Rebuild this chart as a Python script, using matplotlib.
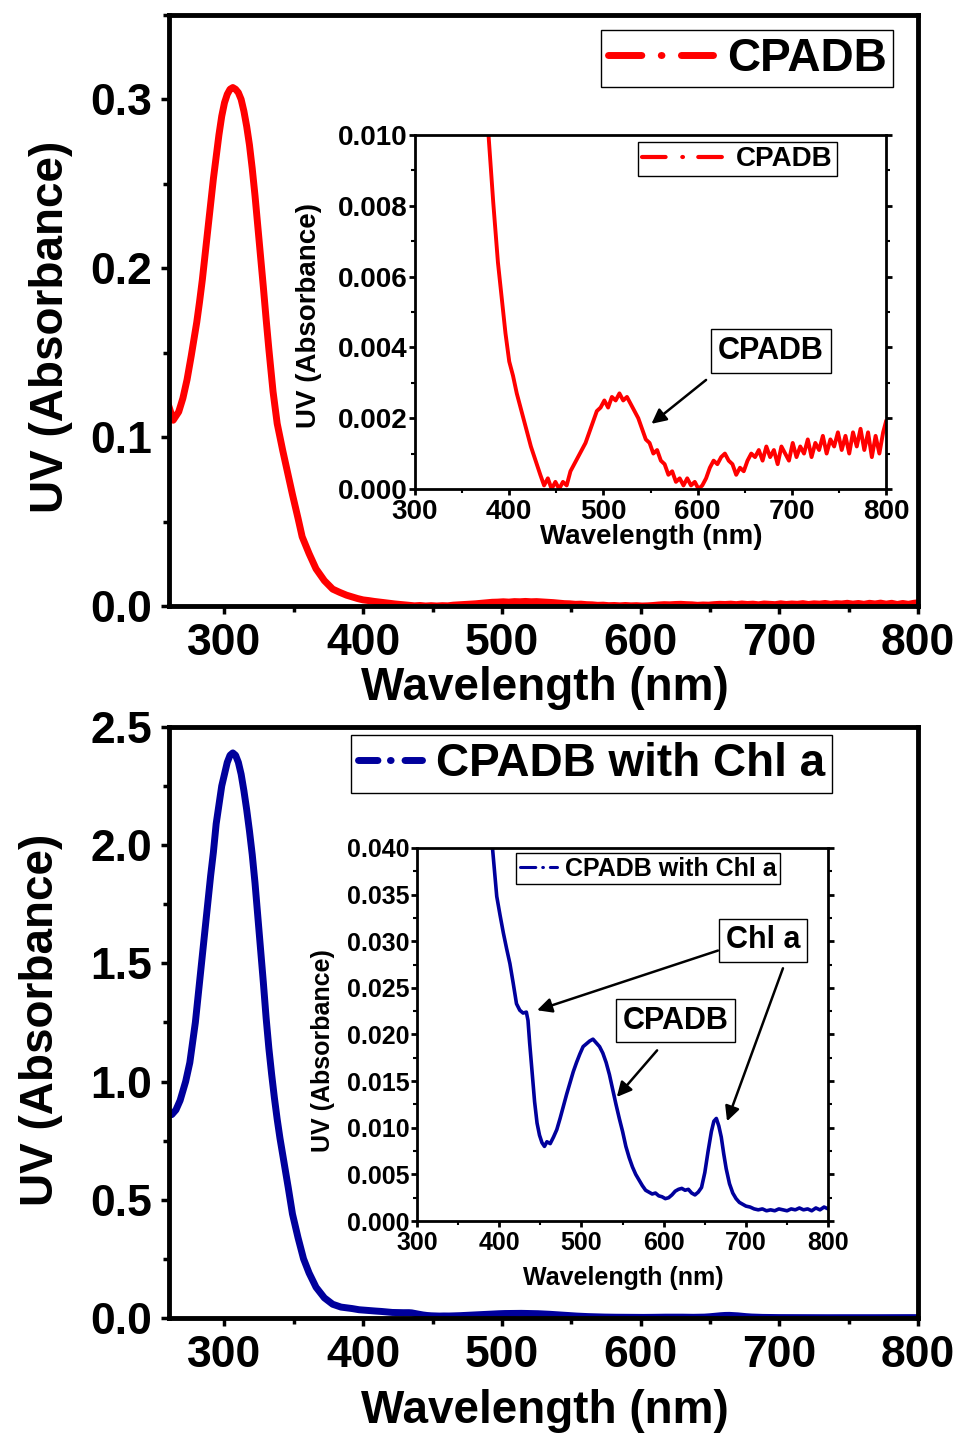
"""
UV absorbance spectra: CPADB alone (top) and CPADB with Chl a (bottom),
each with a zoomed inset of the visible region.
"""

import matplotlib
matplotlib.use("Agg")
import matplotlib.pyplot as plt
from matplotlib.lines import Line2D
from matplotlib.ticker import MultipleLocator

plt.rcParams["font.family"] = ["Liberation Sans", "DejaVu Sans"]
plt.rcParams["font.weight"] = "bold"
plt.rcParams["axes.labelweight"] = "bold"
plt.rcParams["lines.scale_dashes"] = False

RED  = "#ff0000"
BLUE = "#00009c"

# ---- spectra (wavelength in nm, absorbance) ----
CPADB_WL = [260, 263, 267, 270, 273, 276, 278, 280, 282, 284, 286, 288, 290, 292,
            294, 296, 298, 300, 302, 304, 306, 308, 310, 312, 314, 316, 318, 320,
            322, 324, 326, 328, 330, 332, 335, 338, 342, 346, 349, 353, 356, 361,
            366, 372, 378, 383, 388, 392, 396, 400, 404, 408, 413, 418, 423, 428,
            433, 437, 441, 445, 449, 453, 457, 461, 465, 469, 473, 477, 481, 485,
            489, 493, 497, 501, 505, 509, 513, 517, 521, 525, 529, 533, 537, 541,
            545, 549, 553, 557, 561, 565, 569, 573, 577, 581, 585, 589, 593, 597,
            601, 605, 609, 613, 617, 621, 625, 629, 633, 637, 641, 645, 649, 653,
            657, 661, 665, 669, 673, 677, 681, 685, 689, 693, 697, 701, 705, 709,
            713, 717, 721, 725, 729, 733, 737, 741, 745, 749, 753, 757, 761, 765,
            769, 773, 777, 781, 785, 789, 793, 797, 800]
CPADB_ABS = [0.118, 0.110, 0.115, 0.123, 0.134, 0.148, 0.158, 0.168, 0.180, 0.193,
             0.208, 0.223, 0.238, 0.253, 0.266, 0.279, 0.290, 0.298, 0.303, 0.306,
             0.307, 0.306, 0.304, 0.300, 0.293, 0.284, 0.273, 0.259, 0.243, 0.225,
             0.207, 0.189, 0.170, 0.152, 0.127, 0.108, 0.092, 0.077, 0.066, 0.052,
             0.041, 0.031, 0.022, 0.015, 0.0100, 0.0081, 0.0064, 0.0054, 0.0044,
             0.0036, 0.0032, 0.0027, 0.0022, 0.0017, 0.0012, 0.0008, 0.0004, 0.0001,
             0.0003, 0.0000, 0.0002, 0.0000, 0.0002, 0.0001, 0.0005, 0.0007, 0.0009,
             0.0011, 0.0013, 0.0016, 0.0019, 0.0022, 0.0023, 0.0025, 0.0023, 0.0026,
             0.0025, 0.0027, 0.0025, 0.0026, 0.0024, 0.0022, 0.0020, 0.0017, 0.0014,
             0.0013, 0.0010, 0.0011, 0.0008, 0.0007, 0.0004, 0.0005, 0.0002, 0.0003,
             0.0001, 0.0003, 0.0001, 0.0002, 0.0000, 0.0001, 0.0003, 0.0006, 0.0008,
             0.0007, 0.0009, 0.0010, 0.0008, 0.0007, 0.0004, 0.0006, 0.0005, 0.0008,
             0.0010, 0.0009, 0.0011, 0.0008, 0.0012, 0.0009, 0.0011, 0.0007, 0.0012,
             0.0010, 0.0008, 0.0013, 0.0009, 0.0012, 0.0010, 0.0014, 0.0009, 0.0013,
             0.0011, 0.0015, 0.0010, 0.0014, 0.0012, 0.0016, 0.0011, 0.0015, 0.0010,
             0.0016, 0.0012, 0.0017, 0.0011, 0.0016, 0.0009, 0.0015, 0.0010, 0.0016,
             0.0019]

MIX_WL = [260, 262, 265, 268, 272, 275, 279, 282, 284, 286, 288, 290, 292, 294,
          296, 298, 300, 302, 304, 306, 308, 310, 312, 314, 316, 318, 320, 322,
          324, 326, 328, 330, 332, 334, 336, 338, 340, 342, 346, 349, 353, 357,
          361, 366, 372, 378, 384, 388, 392, 397, 401, 405, 409, 413, 417, 421,
          425, 429, 433, 435, 437, 439, 441, 443, 446, 449, 452, 455, 458, 462,
          466, 470, 474, 478, 482, 486, 490, 494, 498, 502, 506, 510, 514, 518,
          522, 526, 530, 534, 538, 542, 546, 550, 554, 558, 562, 566, 570, 574,
          578, 582, 586, 590, 594, 598, 602, 606, 610, 614, 618, 622, 626, 630,
          634, 638, 642, 646, 650, 654, 658, 661, 664, 667, 670, 673, 676, 680,
          684, 688, 692, 696, 700, 705, 710, 715, 720, 725, 730, 735, 740, 745,
          750, 755, 760, 765, 770, 775, 780, 785, 790, 795, 800]
MIX_ABS = [0.87, 0.86, 0.88, 0.92, 1.00, 1.08, 1.25, 1.42, 1.53, 1.65, 1.76, 1.87,
           1.97, 2.09, 2.17, 2.25, 2.30, 2.35, 2.38, 2.39, 2.38, 2.35, 2.30, 2.23,
           2.15, 2.06, 1.96, 1.84, 1.70, 1.56, 1.42, 1.27, 1.14, 1.03, 0.93, 0.84,
           0.76, 0.69, 0.55, 0.44, 0.34, 0.25, 0.19, 0.13, 0.085, 0.058, 0.046,
           0.043, 0.0398, 0.0348, 0.0328, 0.0309, 0.0292, 0.0276, 0.0255, 0.0233,
           0.0226, 0.0223, 0.0224, 0.0215, 0.0191, 0.0170, 0.0148, 0.0128, 0.0105,
           0.0092, 0.0084, 0.0080, 0.0085, 0.0083, 0.0090, 0.0098, 0.0110, 0.0123,
           0.0136, 0.0148, 0.0160, 0.0170, 0.0179, 0.0187, 0.0190, 0.0193, 0.0195,
           0.0191, 0.0187, 0.0180, 0.0170, 0.0157, 0.0141, 0.0125, 0.0110, 0.0096,
           0.0080, 0.0068, 0.0058, 0.0050, 0.0044, 0.0038, 0.0033, 0.0031, 0.0029,
           0.0030, 0.0027, 0.0026, 0.0024, 0.0025, 0.0028, 0.0032, 0.0034, 0.0035,
           0.0033, 0.0034, 0.0030, 0.0028, 0.0031, 0.0036, 0.0052, 0.0075, 0.0096,
           0.0107, 0.0110, 0.0102, 0.0090, 0.0072, 0.0056, 0.0040, 0.0030, 0.0024,
           0.0020, 0.0018, 0.0016, 0.0015, 0.0013, 0.0012, 0.0013, 0.0011, 0.0012,
           0.0011, 0.0013, 0.0012, 0.0011, 0.0013, 0.0012, 0.0014, 0.0012, 0.0013,
           0.0011, 0.0014, 0.0012, 0.0015, 0.0013]

TOP_LABEL = "CPADB"
BOT_LABEL = "CPADB with Chl a"
XLABEL    = "Wavelength (nm)"
YLABEL    = "UV (Absorbance)"


def style_main(ax, ymax, ymajor, yminor):
    ax.set_xlim(260, 800)
    ax.set_ylim(0, ymax)
    ax.xaxis.set_major_locator(MultipleLocator(100))
    ax.xaxis.set_minor_locator(MultipleLocator(50))
    ax.yaxis.set_major_locator(MultipleLocator(ymajor))
    ax.yaxis.set_minor_locator(MultipleLocator(yminor))
    for s in ax.spines.values():
        s.set_linewidth(3.5)
    ax.tick_params(which="major", direction="out", length=6, width=2.5,
                   labelsize=32, pad=6)
    ax.tick_params(which="minor", direction="out", length=4, width=2.5)


def style_inset(ax, ymax, ymajor, yminor, fs):
    ax.set_xlim(300, 800)
    ax.set_ylim(0, ymax)
    ax.xaxis.set_major_locator(MultipleLocator(100))
    ax.xaxis.set_minor_locator(MultipleLocator(50))
    ax.yaxis.set_major_locator(MultipleLocator(ymajor))
    ax.yaxis.set_minor_locator(MultipleLocator(yminor))
    for s in ax.spines.values():
        s.set_linewidth(2)
    ax.tick_params(which="major", direction="out", length=4, width=2,
                   labelsize=fs, pad=1.5, right=True)
    ax.tick_params(which="minor", direction="out", length=3, width=1.5, right=True)
    ax.tick_params(axis="x", which="major", pad=3)


def legend(ax, label, color, lw, dashes, fs, hlen, anchor, loc):
    h = Line2D([], [], color=color, lw=lw, linestyle=(0, dashes),
               dash_capstyle="round")
    leg = ax.legend([h], [label], loc=loc, bbox_to_anchor=anchor, fontsize=fs,
                    frameon=True, fancybox=False, edgecolor="black", framealpha=1,
                    borderpad=0.15, borderaxespad=0, handlelength=hlen,
                    handletextpad=0.3)
    leg.get_frame().set_linewidth(1)
    return leg


def boxed(ax, x, y, text):
    ax.text(x, y, text, fontsize=22, ha="center", va="center",
            bbox=dict(boxstyle="square,pad=0.22", fc="white", ec="black", lw=1))


def arrow(ax, head, tail):
    ax.annotate("", xy=head, xytext=tail,
                arrowprops=dict(arrowstyle="-|>", color="black", lw=1.8,
                                mutation_scale=22, shrinkA=0, shrinkB=0))


fig = plt.figure(figsize=(9.63, 14.36), dpi=100)

# ---- top: CPADB ----
ax1 = fig.add_axes([0.1755, 0.578, 0.7778, 0.4116])
ax1.plot(CPADB_WL, CPADB_ABS, color=RED, lw=5)
style_main(ax1, 0.35, 0.1, 0.05)
ax1.set_xlabel(XLABEL, fontsize=33)
ax1.set_ylabel(YLABEL, fontsize=33)
ax1.xaxis.set_label_coords(0.502, -0.102)
ax1.yaxis.set_label_coords(-0.128, 0.472)
legend(ax1, TOP_LABEL, RED, 5, (24, 14, 0.5, 14), 33, 2.3, (0.967, 0.975), "upper right")

in1 = fig.add_axes([0.431, 0.6595, 0.489, 0.2465])
in1.plot(CPADB_WL, CPADB_ABS, color=RED, lw=2.8)
style_inset(in1, 0.010, 0.002, 0.001, 20)
in1.set_xlabel(XLABEL, fontsize=20)
in1.set_ylabel(YLABEL, fontsize=20)
in1.xaxis.set_label_coords(0.501, -0.1)
in1.yaxis.set_label_coords(-0.197, 0.49)
legend(in1, TOP_LABEL, RED, 3, (17, 12, 0.5, 11), 20, 3.1, (0.896, 0.98), "upper right")
boxed(in1, 678, 0.0039, "CPADB")
arrow(in1, (551, 0.00184), (609, 0.00308))

# ---- bottom: CPADB with Chl a ----
ax2 = fig.add_axes([0.1755, 0.0822, 0.7778, 0.4116])
ax2.plot(MIX_WL, MIX_ABS, color=BLUE, lw=5)
style_main(ax2, 2.5, 0.5, 0.25)
ax2.set_xlabel(XLABEL, fontsize=33)
ax2.set_ylabel(YLABEL, fontsize=33)
ax2.xaxis.set_label_coords(0.502, -0.12)
ax2.yaxis.set_label_coords(-0.141, 0.504)
legend(ax2, BOT_LABEL, BLUE, 5, (14, 9, 0.5, 10), 33, 1.4, (0.243, 0.986), "upper left")

in2 = fig.add_axes([0.433, 0.1497, 0.427, 0.2598])
in2.plot(MIX_WL, MIX_ABS, color=BLUE, lw=2.6)
style_inset(in2, 0.040, 0.005, 0.0025, 18)
in2.set_xlabel(XLABEL, fontsize=18)
in2.set_ylabel(YLABEL, fontsize=18)
in2.xaxis.set_label_coords(0.501, -0.12)
in2.yaxis.set_label_coords(-0.2, 0.458)
legend(in2, BOT_LABEL, BLUE, 2.2, (11, 5, 0.5, 5), 18, 1.5, (0.241, 0.987), "upper left")
boxed(in2, 721, 0.0301, "Chl a")
boxed(in2, 614, 0.0215, "CPADB")
arrow(in2, (446, 0.0226), (666, 0.0290))
arrow(in2, (677, 0.0107), (745, 0.0271))
arrow(in2, (543, 0.0133), (592, 0.0183))

fig.savefig("out.png", dpi=100)
plt.close(fig)
